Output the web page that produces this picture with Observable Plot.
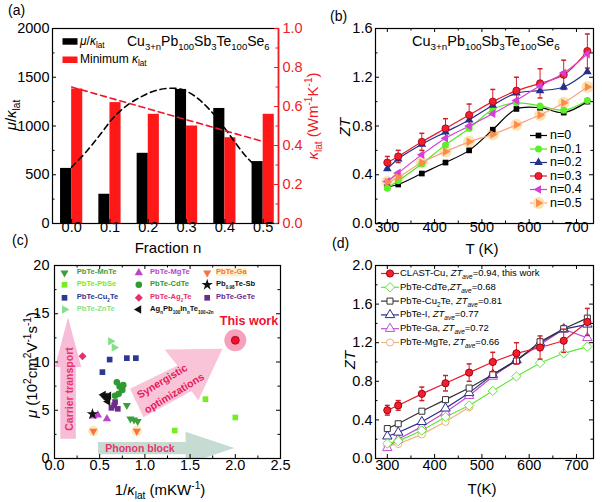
<!DOCTYPE html>
<html><head><meta charset="utf-8">
<script src="https://cdn.jsdelivr.net/npm/d3@7"></script>
<script src="https://cdn.jsdelivr.net/npm/@observablehq/plot@0.6"></script>
<style>
html,body{margin:0;padding:0;background:#fff;}
#fig{position:relative;width:602px;height:502px;overflow:hidden;font-family:"Liberation Sans",Arial,sans-serif;background:#fff}
.t{position:absolute;white-space:nowrap;line-height:1;transform-origin:50% 50%}
sub,sup{font-size:68%;line-height:0}
.s sub{font-size:60%}
i{font-style:italic}
</style></head><body><div id="fig"></div>
<script>
// ---------------- Panel (a) data ----------------
const fraction = [0, 0.1, 0.2, 0.3, 0.4, 0.5];
const fractionLabels = ["0.0", "0.1", "0.2", "0.3", "0.4", "0.5"];
const muOverKappa = [565, 300, 720, 1375, 1180, 635];
const minKappaLat = [0.69, 0.62, 0.56, 0.50, 0.44, 0.56];
const muFitN = [0, 0.041, 0.076, 0.11, 0.144, 0.179, 0.214, 0.249, 0.284, 0.319, 0.354, 0.388, 0.423, 0.457, 0.483];
const muFitV = [578, 749, 920, 1090, 1210, 1295, 1357, 1385, 1378, 1313, 1193, 1039, 851, 680, 578];
const kappaFitN = [0, 0.5];
const kappaFitV = [0.70, 0.42];
const leftTicksA = [0, 500, 1000, 1500, 2000];
const leftMinorA = [250, 750, 1250, 1750];
const rightTicksA = [0, 0.2, 0.4, 0.6, 0.8, 1.0];
const rightMinorA = [0.1, 0.3, 0.5, 0.7, 0.9];
const leftMaxA = 2000, rightMaxA = 1.0;

// ---------------- Panel (b) / (d) data ----------------
const T = [300, 323, 373, 423, 473, 523, 573, 623, 673, 723];
const tTicks = [300, 400, 500, 600, 700];
const tMinor = [350, 450, 550, 650];
const ztN0  = [0.30, 0.32, 0.41, 0.50, 0.60, 0.77, 0.94, 0.95, 0.91, 1.00];
const ztN01 = [0.29, 0.35, 0.49, 0.645, 0.78, 0.935, 0.99, 0.965, 0.93, 1.01];
const ztN02 = [0.45, 0.53, 0.65, 0.75, 0.85, 0.97, 1.07, 1.09, 1.12, 1.245];
const ztN03 = [0.50, 0.55, 0.67, 0.78, 0.89, 1.00, 1.09, 1.15, 1.22, 1.415];
const errN03 = [0.05, 0.05, 0.07, 0.08, 0.09, 0.10, 0.11, 0.12, 0.12, 0.14];
const ztN04 = [0.345, 0.415, 0.565, 0.70, 0.80, 0.90, 1.01, 1.13, 1.235, 1.39];
const ztN05 = [0.34, 0.38, 0.50, 0.59, 0.67, 0.73, 0.81, 0.89, 0.99, 1.12];
const ztTicksB = [0, 0.4, 0.8, 1.2, 1.6];
const ztMinorB = [0.2, 0.6, 1.0, 1.4];

const ztCdTe = [0.155, 0.18, 0.29, 0.43, 0.55, 0.70, 0.85, 0.99, 1.09, 1.16];
const ztCu2Te = [0.31, 0.36, 0.49, 0.61, 0.73, 0.87, 1.01, 1.21, 1.345, 1.455];
const ztPbTeI = [0.23, 0.27, 0.38, 0.52, 0.68, 0.87, 1.02, 1.20, 1.34, 1.39];
const ztPbTeGa = [0.11, 0.20, 0.33, 0.48, 0.65, 0.85, 1.02, 1.18, 1.34, 1.25];
const ztMgTe = [0.13, 0.15, 0.25, 0.38, 0.53];
const ztTicksD = [0, 0.4, 0.8, 1.2, 1.6, 2.0];
const ztMinorD = [0.2, 0.6, 1.0, 1.4, 1.8];

// ---------------- Panel (c) data ----------------
const mnteX = [0.80, 0.84, 0.88, 0.92], mnteY = [5.5, 4.1, 4.0, 3.85];
const pbseX = [1.33, 1.67, 2.00], pbseY = [2.9, 6.15, 4.25];
const cu2teX = [0.53, 0.61, 0.80, 0.90], cu2teY = [8.95, 10.25, 10.4, 10.4];
const znteX = [0.62, 0.66], znteY = [12.15, 11.5];
const mgteX = [0.43, 0.48, 0.58], mgteY = [4.4, 4.5, 4.1];
const cdteX = [0.69, 0.72, 0.75, 0.71, 0.67, 0.76], cdteY = [7.9, 7.45, 7.1, 6.7, 6.5, 7.6];
const ag2teX = [0.31], ag2teY = [10.6];
const sbX = [0.42], sbY = [4.6];
const gaX = [0.43, 0.91], gaY = [2.85, 2.85];
const geteX = [0.67, 0.63, 0.70, 0.66], geteY = [5.85, 5.25, 5.15, 5.5];
const agpbX = [0.54, 0.56, 0.58, 0.59, 0.60], agpbY = [6.6, 6.4, 6.2, 5.9, 6.5];
const thisWorkX = [2.0], thisWorkY = [12.25];
const invKTicks = [0, 0.5, 1.0, 1.5, 2.0, 2.5];
const invKMinor = [0.25, 0.75, 1.25, 1.75, 2.25];
const muTicks = [0, 5, 10, 15, 20];
const muMinor = [2.5, 7.5, 12.5, 17.5];
// decorative arrows (c)
const carrierArrowX = [0.064, 0.064, 0.005, 0.15, 0.295, 0.236, 0.236];
const carrierArrowY = [2.05, 9.47, 9.47, 14.6, 9.47, 9.47, 2.05];
const synergyArrowX = [0.836, 1.360, 1.218, 1.858, 1.591, 1.516, 0.984];
const synergyArrowY = [7.22, 9.64, 11.30, 11.37, 6.01, 6.99, 4.28];
const phononArrowX = [0.48, 1.45, 1.45, 1.99, 1.45, 1.45, 0.48];
const phononArrowY = [1.72, 1.72, 2.76, 1.08, -0.6, 0.45, 0.45];

// ---------------- helpers ----------------
const FONT = '"Liberation Sans", Arial, sans-serif';
const TICK_FS = 14.5;
const fig = document.getElementById("fig");
const zip = (xs, ys) => xs.map((x, i) => ({x, y: ys[i]}));
function place(svg, left, top) {
  svg.style.position = "absolute"; svg.style.left = left + "px"; svg.style.top = top + "px";
  svg.style.overflow = "visible"; svg.style.background = "transparent";
  fig.appendChild(svg);
}
function label(html, x, y, {anchor = "middle", rotate = 0, size = 15, color = "#000", weight = "normal", style = "", cls = ""} = {}) {
  const d = document.createElement("div");
  d.className = "t " + cls;
  d.innerHTML = html;
  const tx = anchor === "start" ? "0" : anchor === "end" ? "-100%" : "-50%";
  d.style.cssText = `left:${x}px;top:${y}px;font-size:${size}px;color:${color};font-weight:${weight};transform:translate(${tx},-50%)${rotate ? ` rotate(${rotate}deg)` : ""};${style}`;
  fig.appendChild(d);
}
function triSym(angle) {
  const a = angle * Math.PI / 180, c = Math.cos(a), s = Math.sin(a);
  return {draw(ctx, size) {
    const y = -Math.sqrt(size / (3 * Math.sqrt(3)));
    const pts = [[0, 2 * y], [-Math.sqrt(3) * y, -y], [Math.sqrt(3) * y, -y]];
    pts.forEach(([px, py], i) => { const X = px * c - py * s, Y = px * s + py * c; i ? ctx.lineTo(X, Y) : ctx.moveTo(X, Y); });
    ctx.closePath();
  }};
}
const triUp = triSym(0), triDown = triSym(180), triLeft = triSym(-90), triRight = triSym(90);
const lineSym = (w) => ({draw(ctx) { ctx.moveTo(-w / 2, 0); ctx.lineTo(w / 2, 0); }});
const rectSym = {draw(ctx) { ctx.rect(-7.5, -3, 15, 6.5); }};
const capSym = {draw(ctx) { ctx.moveTo(-2.5, 0); ctx.lineTo(2.5, 0); }};
function ticksX(vals, fh, len, sides, stroke = "#000") {
  return sides.map(s => Plot.ruleX(vals, {x: d => d, stroke, strokeWidth: 1, ...(s === "bottom" ? {insetTop: fh - len} : {insetBottom: fh - len})}));
}
function ticksY(vals, fw, len, sides, stroke = "#000") {
  return sides.map(s => Plot.ruleY(vals, {y: d => d, stroke, strokeWidth: 1, ...(s === "left" ? {insetRight: fw - len} : {insetLeft: fw - len})}));
}
function xLabels(vals, fmt, dy) {
  return Plot.text(vals, {x: d => d, frameAnchor: "bottom", dy, text: fmt, fontSize: TICK_FS, fill: "#000"});
}
function yLabels(vals, fmt, dx, side = "left", fill = "#000") {
  return Plot.text(vals, {y: d => d, frameAnchor: side, textAnchor: side === "left" ? "end" : "start", dx, text: fmt, fontSize: TICK_FS, fill});
}
function legendDot(dx, dy, opts) { return Plot.dot([0], {frameAnchor: "top-left", dx, dy, ...opts}); }

// ================= Panel (a) =================
{
  const fw = 226, fh = 195, barW = 0.029, kScale = leftMaxA / rightMaxA;
  const xDom = [-0.05, 0.54];
  const red = "#ee1c25";
  const plot = Plot.plot({
    width: 300, height: 250, marginLeft: 52, marginRight: 22, marginTop: 28, marginBottom: 27,
    x: {domain: xDom, axis: null}, y: {domain: [0, leftMaxA], axis: null},
    style: {fontFamily: FONT, background: "transparent", overflow: "visible"},
    marks: [
      Plot.rectY(fraction.map((n, i) => ({n, v: muOverKappa[i]})), {x1: d => d.n - barW, x2: d => d.n, y: "v", fill: "#000"}),
      Plot.rectY(fraction.map((n, i) => ({n, v: minKappaLat[i] * kScale})), {x1: d => d.n, x2: d => d.n + barW, y: "v", fill: "#ff1818"}),
      Plot.line(zip(muFitN, muFitV), {x: "x", y: "y", stroke: "#000", strokeWidth: 1.6, strokeDasharray: "6,4", curve: "catmull-rom"}),
      Plot.line(zip(kappaFitN, kappaFitV.map(v => v * kScale)), {x: "x", y: "y", stroke: "#e8192c", strokeWidth: 1.6, strokeDasharray: "6,4"}),
      Plot.frame({stroke: "#000", strokeWidth: 1.2}),
      Plot.ruleX([xDom[1]], {stroke: red, strokeWidth: 1.6}),
      ...ticksY(leftTicksA, fw, 4, ["left"]),
      ...ticksY(leftMinorA, fw, 2.5, ["left"]),
      ...ticksY(rightTicksA.map(v => v * kScale), fw, 4, ["right"], red),
      ...ticksY(rightMinorA.map(v => v * kScale), fw, 2.5, ["right"], red),
      ...ticksX(fraction, fh, 4, ["bottom"]),
      yLabels(leftTicksA, d => String(d), -3),
      yLabels(rightTicksA.map(v => v * kScale), d => (d / kScale).toFixed(1), 4, "right", red),
      xLabels(fraction, (d, i) => fractionLabels[i], 8.5),
      legendDot(17.5, 12.7, {symbol: rectSym, fill: "#000"}),
      legendDot(17.5, 31, {symbol: rectSym, fill: "#ff1818"})
    ]
  });
  place(plot, 0, 0);
}

// ================= Panel (b) =================
const seriesB = [
  {label: "n=0", zt: ztN0, line: "#000000", fill: "#000000", stroke: "none", sym: "square", r: 3.2},
  {label: "n=0.1", zt: ztN01, line: "#4fe81f", fill: "#5cf02a", stroke: "none", sym: "circle", r: 3.5},
  {label: "n=0.2", zt: ztN02, line: "#1f2f8c", fill: "#22318c", stroke: "none", sym: triUp, r: 3.2},
  {label: "n=0.3", zt: ztN03, line: "#e8192c", fill: "#f2202e", stroke: "#a00010", sym: "circle", r: 3.6},
  {label: "n=0.4", zt: ztN04, line: "#d33fd3", fill: "#d53fd5", stroke: "none", sym: triLeft, r: 3.2},
  {label: "n=0.5", zt: ztN05, line: "#f6a585", fill: "#ff8a4c", stroke: "none", sym: triRight, r: 3.2, halo: "#fbe4b4"}
];
{
  const fw = 218, fh = 195;
  const marks = [];
  seriesB.forEach(s => { if (s.halo) marks.push(Plot.dot(T.map((t, i) => ({T: t, z: s.zt[i]})), {x: "T", y: "z", r: 6, fill: s.halo})); });
  seriesB.forEach(s => marks.push(Plot.line(T.map((t, i) => ({T: t, z: s.zt[i]})), {x: "T", y: "z", stroke: s.line, strokeWidth: 1.2, curve: "catmull-rom"})));
  const errRows = T.map((t, i) => ({T: t, z: ztN03[i], e: errN03[i]}));
  marks.push(Plot.ruleX(errRows, {x: "T", y1: d => d.z - d.e, y2: d => d.z + d.e, stroke: "#d0202c", strokeWidth: 1}));
  marks.push(Plot.dot(errRows, {x: "T", y: d => d.z + d.e, symbol: capSym, stroke: "#d0202c", fill: "none"}));
  marks.push(Plot.dot(errRows, {x: "T", y: d => d.z - d.e, symbol: capSym, stroke: "#d0202c", fill: "none"}));
  seriesB.forEach(s => marks.push(Plot.dot(T.map((t, i) => ({T: t, z: s.zt[i]})), {x: "T", y: "z", symbol: s.sym, r: s.r, fill: s.fill, stroke: s.stroke, strokeWidth: 0.8})));
  seriesB.forEach((s, i) => {
    const dy = 107 + 13.5 * i;
    marks.push(legendDot(163, dy, {symbol: lineSym(17), stroke: s.line, fill: "none", strokeWidth: 1.2}));
    if (s.halo) marks.push(legendDot(163, dy, {r: 6, fill: s.halo}));
    marks.push(legendDot(163, dy, {symbol: s.sym, r: s.r, fill: s.fill, stroke: s.stroke, strokeWidth: 0.8}));
  });
  const plot = Plot.plot({
    width: 302, height: 250, marginLeft: 75, marginRight: 9, marginTop: 28, marginBottom: 27,
    x: {domain: [275, 736], axis: null}, y: {domain: [0, 1.6], axis: null},
    style: {fontFamily: FONT, background: "transparent", overflow: "visible"},
    marks: [
      ...marks,
      Plot.frame({stroke: "#000", strokeWidth: 1.2}),
      ...ticksX(tTicks, fh, 4, ["bottom", "top"]),
      ...ticksX(tMinor, fh, 2.5, ["bottom", "top"]),
      ...ticksY(ztTicksB, fw, 4, ["left", "right"]),
      ...ticksY(ztMinorB, fw, 2.5, ["left", "right"]),
      xLabels(tTicks, d => String(d), 8.5),
      yLabels(ztTicksB, d => d.toFixed(1), -3)
    ]
  });
  place(plot, 300, 0);
}

// ================= Panel (c) =================
const seriesC = [
  {name: "PbTe-MnTe", xs: mnteX, ys: mnteY, color: "#3e9e3e", sym: triDown, r: 3.0, col: 0, row: 0},
  {name: "PbTe-PbSe", xs: pbseX, ys: pbseY, color: "#74ee22", sym: "square", r: 3.2, col: 0, row: 1},
  {name: "PbTe-Cu<sub>2</sub>Te", xs: cu2teX, ys: cu2teY, color: "#2b3990", sym: "square", r: 3.2, col: 0, row: 2},
  {name: "PbTe-ZnTe", xs: znteX, ys: znteY, color: "#86e08a", sym: triRight, r: 3.2, col: 0, row: 3},
  {name: "PbTe-MgTe", xs: mgteX, ys: mgteY, color: "#bb44cc", sym: triUp, r: 3.1, col: 1, row: 0},
  {name: "PbTe-CdTe", xs: cdteX, ys: cdteY, color: "#2f9a2f", sym: "circle", r: 3.3, col: 1, row: 1},
  {name: "PbTe-Ag<sub>2</sub>Te", xs: ag2teX, ys: ag2teY, color: "#e8306a", sym: "diamond2", r: 3.6, col: 1, row: 2},
  {name: "Ag<sub>n</sub>Pb<sub>100</sub>In<sub>n</sub>Te<sub>100+2n</sub>", xs: agpbX, ys: agpbY, color: "#111111", sym: triLeft, r: 3.1, col: 1, row: 3},
  {name: "PbTe-Ga", xs: gaX, ys: gaY, color: "#f47348", sym: triDown, r: 3.0, col: 2, row: 0, halo: "#fbe8b4"},
  {name: "Pb<sub>0.98</sub>Te-Sb", xs: sbX, ys: sbY, color: "#111111", sym: "star", r: 3.6, col: 2, row: 1},
  {name: "PbTe-GeTe", xs: geteX, ys: geteY, color: "#6b2c8c", sym: "square", r: 3.2, col: 2, row: 2}
];
const legendColsC = [10, 84.3, 152.7], legendTextColsC = [76.7, 150, 216], legendRowsC = [7.3, 19.3, 32.3, 44];
{
  const fw = 226, fh = 193;
  const marks = [
    Plot.line(zip(carrierArrowX, carrierArrowY), {x: "x", y: "y", fill: "#f6bcd8", stroke: "none"}),
    Plot.line(zip(phononArrowX, phononArrowY), {x: "x", y: "y", fill: "#c6dcd2", stroke: "none", clip: true}),
    Plot.line(zip(synergyArrowX, synergyArrowY), {x: "x", y: "y", fill: "#f9c4d8", stroke: "none"}),
    Plot.dot(zip(thisWorkX, thisWorkY), {x: "x", y: "y", r: 11, fill: "#f5a3bd"}),
    Plot.dot(zip(thisWorkX, thisWorkY), {x: "x", y: "y", r: 4, fill: "#ee1030", stroke: "#b0001a", strokeWidth: 0.8})
  ];
  seriesC.forEach(s => { if (s.halo) marks.push(Plot.dot(zip(s.xs, s.ys), {x: "x", y: "y", r: 5.2, fill: s.halo})); });
  seriesC.forEach(s => marks.push(Plot.dot(zip(s.xs, s.ys), {x: "x", y: "y", symbol: s.sym, r: s.r, fill: s.color, stroke: "none"})));
  seriesC.forEach(s => marks.push(legendDot(legendColsC[s.col], legendRowsC[s.row], {symbol: s.sym, r: s.r, fill: s.color, stroke: "none"})));
  const plot = Plot.plot({
    width: 300, height: 252, marginLeft: 54, marginRight: 20, marginTop: 15, marginBottom: 44,
    x: {domain: [0, 2.5], axis: null}, y: {domain: [0, 20], axis: null},
    style: {fontFamily: FONT, background: "transparent", overflow: "visible"},
    marks: [
      ...marks,
      Plot.frame({stroke: "#000", strokeWidth: 1.2}),
      ...ticksX(invKTicks, fh, 4, ["bottom", "top"]),
      ...ticksX(invKMinor, fh, 2.5, ["bottom", "top"]),
      ...ticksY(muTicks, fw, 4, ["left", "right"]),
      ...ticksY(muMinor, fw, 2.5, ["left", "right"]),
      xLabels(invKTicks, d => d.toFixed(1), 11),
      yLabels(muTicks, d => String(d), -5)
    ]
  });
  place(plot, 0, 250);
}

// ================= Panel (d) =================
const seriesD = [
  {name: "CLAST-Cu, <i>ZT</i><sub><i>ave</i></sub>=0.94, this work", zt: ztN03, color: "#e8192c", fill: "#f2202e", stroke: "#a00010", sym: "circle", r: 3.6, err: errN03},
  {name: "PbTe-CdTe,<i>ZT</i><sub><i>ave</i></sub>=0.68", zt: ztCdTe, color: "#62e638", fill: "#fff", stroke: "#62e638", sym: "diamond2", r: 4.2},
  {name: "PbTe-Cu<sub>2</sub>Te, <i>ZT</i><sub><i>ave</i></sub>=0.81", zt: ztCu2Te, color: "#333333", fill: "#fff", stroke: "#333333", sym: "square", r: 3.4},
  {name: "PbTe-I, <i>ZT</i><sub><i>ave</i></sub>=0.77", zt: ztPbTeI, color: "#2b2b8e", fill: "#fff", stroke: "#2b2b8e", sym: triUp, r: 3.5},
  {name: "PbTe-Ga, <i>ZT</i><sub><i>ave</i></sub>=0.72", zt: ztPbTeGa, color: "#c04fd8", fill: "#fff", stroke: "#c04fd8", sym: triUp, r: 3.5},
  {name: "PbTe-MgTe, <i>ZT</i><sub><i>ave</i></sub>=0.66", zt: ztMgTe, color: "#eeb47a", fill: "#fff", stroke: "#eeb47a", sym: "circle", r: 3.6}
];
{
  const fw = 218, fh = 193;
  const marks = [];
  const rowsOf = s => s.zt.map((z, i) => ({T: T[i], z}));
  seriesD.slice().reverse().forEach(s => marks.push(Plot.line(rowsOf(s), {x: "T", y: "z", stroke: s.color, strokeWidth: 1.2})));
  seriesD.slice().reverse().forEach(s => {
    if (s.err) {
      const er = s.zt.map((z, i) => ({T: T[i], z, e: s.err[i]}));
      marks.push(Plot.ruleX(er, {x: "T", y1: d => d.z - d.e, y2: d => d.z + d.e, stroke: "#d0202c"}));
      marks.push(Plot.dot(er, {x: "T", y: d => d.z + d.e, symbol: capSym, stroke: "#d0202c", fill: "none"}));
      marks.push(Plot.dot(er, {x: "T", y: d => d.z - d.e, symbol: capSym, stroke: "#d0202c", fill: "none"}));
    }
    marks.push(Plot.dot(rowsOf(s), {x: "T", y: "z", symbol: s.sym, r: s.r, fill: s.fill, stroke: s.stroke, strokeWidth: 1}));
  });
  seriesD.forEach((s, i) => {
    const dy = 8 + 13.8 * i;
    marks.push(legendDot(14.5, dy, {symbol: lineSym(18), stroke: s.color, fill: "none", strokeWidth: 1.2}));
    marks.push(legendDot(14.5, dy, {symbol: s.sym, r: s.r, fill: s.fill, stroke: s.stroke, strokeWidth: 1}));
  });
  const plot = Plot.plot({
    width: 302, height: 252, marginLeft: 75, marginRight: 9, marginTop: 15, marginBottom: 44,
    x: {domain: [275, 736], axis: null}, y: {domain: [0, 2.0], axis: null},
    style: {fontFamily: FONT, background: "transparent", overflow: "visible"},
    marks: [
      ...marks,
      Plot.frame({stroke: "#000", strokeWidth: 1.2}),
      ...ticksX(tTicks, fh, 4, ["bottom", "top"]),
      ...ticksX(tMinor, fh, 2.5, ["bottom", "top"]),
      ...ticksY(ztTicksD, fw, 4, ["left", "right"]),
      ...ticksY(ztMinorD, fw, 2.5, ["left", "right"]),
      xLabels(tTicks, d => String(d), 11),
      yLabels(ztTicksD, d => d.toFixed(1), -3)
    ]
  });
  place(plot, 300, 250);
}

// ================= Text overlays =================
const formula = "Cu<sub>3+n</sub>Pb<sub>100</sub>Sb<sub>3</sub>Te<sub>100</sub>Se<sub>6</sub>";
label("(a)", 8, 10, {anchor: "start", size: 14});
label("(b)", 330, 16, {anchor: "start", size: 14});
label("(c)", 12, 240, {anchor: "start", size: 14});
label("(d)", 332, 243, {anchor: "start", size: 14});
// (a)
label(formula, 127, 41, {anchor: "start", size: 14});
label("<i>μ</i>/<i>κ</i><sub>lat</sub>", 80, 40.7, {anchor: "start", size: 12});
label("Minimum <i>κ</i><sub>lat</sub>", 80, 59, {anchor: "start", size: 12});
label("<i>μ</i>/<i>κ</i><sub>lat</sub>", 10, 115, {rotate: -90, size: 15});
label("<i>κ</i><sub>lat</sub> (Wm<sup>-1</sup>K<sup>-1</sup>)", 312, 116, {rotate: -90, size: 15, color: "#ee1c25"});
label("Fraction n", 168, 247, {size: 15});
// (b)
label(formula, 412, 41, {anchor: "start", size: 14.5});
label("<i>ZT</i>", 344, 127, {rotate: -90, size: 15});
label("T (K)", 482, 248, {size: 15});
seriesB.forEach((s, i) => label(s.label, 550, 135 + 13.5 * i, {anchor: "start", size: 12.5}));
// (c)
label("<i>μ</i> (10<sup>2</sup>cm<sup>2</sup>V<sup>-1</sup>s<sup>-1</sup>)", 31, 365, {rotate: -90, size: 15});
label("1/<i>κ</i><sub>lat</sub> (mKW<sup>-1</sup>)", 160, 489, {size: 15});
seriesC.forEach(s => label(s.name, legendTextColsC[s.col], 265 + legendRowsC[s.row], {anchor: "start", size: 7.6, weight: "bold", color: s.color, cls: "s",
  style: s.halo ? "background:#fdf0c6;" : ""}));
label("This work", 249, 321, {size: 12.5, weight: "bold", color: "#ee1133"});
label("Carrier transport", 69, 389, {rotate: -90, size: 10.5, weight: "bold", color: "#e8336b"});
label("Phonon block", 140, 448, {size: 10.5, weight: "bold", color: "#e8336b"});
label("Synergistic", 162, 381, {rotate: -31, size: 10.5, weight: "bold", color: "#e5195a"});
label("optimizations", 174, 393, {rotate: -31, size: 10.5, weight: "bold", color: "#e5195a"});
// (d)
label("<i>ZT</i>", 349, 360, {rotate: -90, size: 15});
label("T(K)", 482, 488, {size: 15});
seriesD.forEach((s, i) => label(s.name, 400, 273 + 13.8 * i, {anchor: "start", size: 9.5}));
</script></body></html>
